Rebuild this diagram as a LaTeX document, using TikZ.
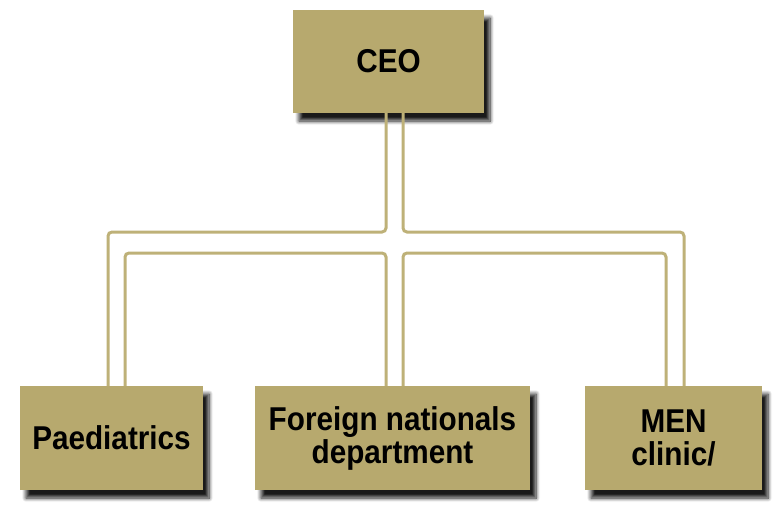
\documentclass[tikz,border=0pt]{standalone}
\usepackage{fontspec}
\setmainfont{Liberation Sans}[FakeStretch=0.9]
\usetikzlibrary{shadows.blur}
\definecolor{boxtan}{RGB}{183,169,110}
\definecolor{linegold}{RGB}{190,177,120}

\begin{document}
\begin{tikzpicture}[x=1pt,y=-1pt,
        unit/.style={fill=boxtan,inner sep=0pt,align=center,
            font=\fontsize{33}{33}\selectfont\bfseries,
            blur shadow={shadow xshift=6pt,shadow yshift=-8pt,
                shadow blur radius=4pt,shadow blur steps=8,shadow opacity=90}},
        link/.style={draw=linegold,line width=3pt,rounded corners=4pt}]
    \useasboundingbox (0,0) rectangle (781,515);

    % boxes
    \node[unit,minimum width=191pt,minimum height=103pt] (ceo) at (388.5,61.5) {CEO};
    \node[unit,minimum width=183pt,minimum height=104pt] (paed) at (111.5,438) {Paediatrics};
    \node[unit,minimum width=275pt,minimum height=104pt] (foreign) at (392.5,438) {Foreign nationals\\department};
    \node[unit,minimum width=177pt,minimum height=104pt] (men) at (673.5,438) {MEN\\clinic/};

    % levels of the two rails
    \coordinate (outer) at (0,232);
    \coordinate (inner) at (0,253);

    % attach points
    \coordinate (ceoL) at ([xshift=-2.5pt]ceo.south);
    \coordinate (ceoR) at ([xshift=14.5pt]ceo.south);
    \coordinate (paedL) at ([xshift=-3.5pt]paed.north);
    \coordinate (paedR) at ([xshift=13.5pt]paed.north);
    \coordinate (forL) at ([xshift=-6.5pt]foreign.north);
    \coordinate (forR) at ([xshift=10.5pt]foreign.north);
    \coordinate (menL) at ([xshift=-7.5pt]men.north);
    \coordinate (menR) at ([xshift=10.5pt]men.north);

    % connectors
    \draw[link] (ceoL) -- (ceoL |- outer) -- (paedL |- outer) -- (paedL);
    \draw[link] (ceoR) -- (ceoR |- outer) -- (menR |- outer) -- (menR);
    \draw[link] (paedR) -- (paedR |- inner) -- (forL |- inner) -- (forL);
    \draw[link] (forR) -- (forR |- inner) -- (menL |- inner) -- (menL);
\end{tikzpicture}
\end{document}
